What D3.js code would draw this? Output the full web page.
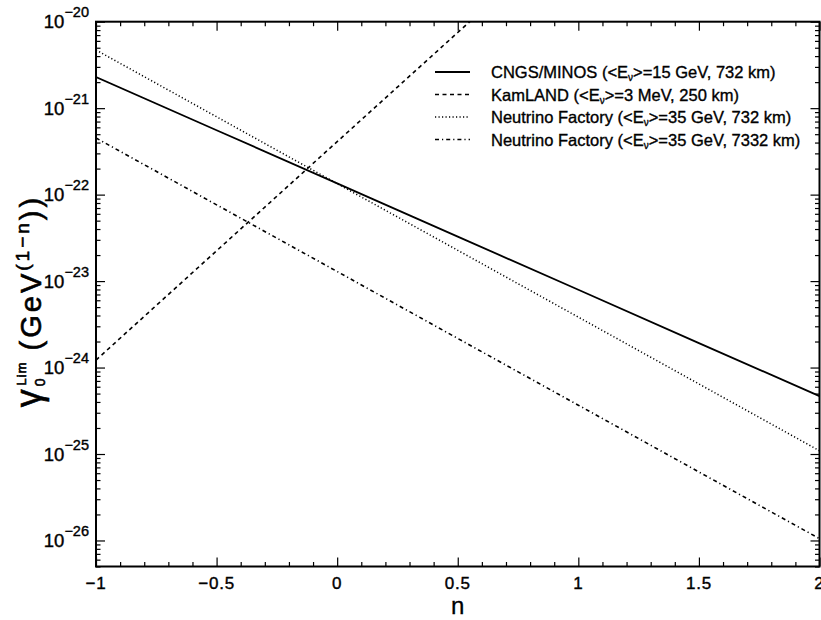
<!DOCTYPE html>
<html>
<head>
<meta charset="utf-8">
<script src="https://cdn.jsdelivr.net/npm/d3@7"></script>
<style>
  html, body { margin: 0; padding: 0; background: #fff; }
  svg { display: block; }
  text { font-family: "Liberation Sans", Arial, Helvetica, sans-serif; fill: #000; }
</style>
</head>
<body>
<svg id="chart" width="821" height="620"></svg>
<script>
// ---- data ----
const nValues = [-1, -0.5, 0, 0.5, 1, 1.5, 2];
const kamlandN = [-1, -0.5, 0, 0.5, 1];
const cngsMinos = [2.29e-21, 5.56e-22, 1.35e-22, 3.27e-23, 7.93e-24, 1.92e-24, 4.67e-25];
const kamland = [1.22e-24, 2.24e-23, 4.10e-22, 7.50e-21, 1.37e-19];
const nufactShort = [4.71e-21, 7.95e-22, 1.34e-22, 2.27e-23, 3.83e-24, 6.46e-25, 1.09e-25];
const nufactLong = [4.52e-22, 7.62e-23, 1.29e-23, 2.17e-24, 3.67e-25, 6.20e-26, 1.05e-26];

const legendLabels = [
  ["CNGS/MINOS (<E", "=15 GeV, 732 km)"],
  ["KamLAND (<E", "=3 MeV, 250 km)"],
  ["Neutrino Factory (<E", "=35 GeV, 732 km)"],
  ["Neutrino Factory (<E", "=35 GeV, 7332 km)"]
];
const xTickLabels = ["−1", "−0.5", "0", "0.5", "1", "1.5", "2"];
const xMajorTicks = [-1, -0.5, 0, 0.5, 1, 1.5, 2];
const yExponents = [-20, -21, -22, -23, -24, -25, -26];

// ---- layout ----
const svg = d3.select("#chart");
const L = 96, R = 819.5, T = 21.7, B = 566.5;

const x = d3.scaleLinear().domain([-1, 2]).range([L, R]);
const y = d3.scaleLog().domain([5e-27, 1e-20]).range([B, T]);

svg.append("defs").append("clipPath").attr("id", "plotclip")
  .append("rect").attr("x", L).attr("y", T).attr("width", R - L).attr("height", B - T);

// ---- ticks (inward, all four sides) ----
const xMinor = d3.range(-1, 2.0001, 0.1).map(v => +v.toFixed(2)).filter(v => !xMajorTicks.some(m => Math.abs(m - v) < 1e-6));
const yMajor = yExponents.map(e => Math.pow(10, e));
const yMinor = [];
for (let e = -27; e < -20; e++) {
  for (let k = 2; k <= 9; k++) {
    const v = k * Math.pow(10, e);
    if (v >= 5e-27 && v <= 1e-20) yMinor.push(v);
  }
}

function styleAxis(g) {
  g.select(".domain").remove();
  g.selectAll(".tick line").attr("stroke", "#000").attr("stroke-width", 1.2);
  g.selectAll(".tick text").remove();
}
const majLen = 9, minLen = 4.5;
svg.append("g").attr("transform", `translate(0,${B})`)
  .call(d3.axisBottom(x).tickValues(xMajorTicks).tickSize(-majLen)).call(styleAxis);
svg.append("g").attr("transform", `translate(0,${B})`)
  .call(d3.axisBottom(x).tickValues(xMinor).tickSize(-minLen)).call(styleAxis);
svg.append("g").attr("transform", `translate(0,${T})`)
  .call(d3.axisTop(x).tickValues(xMajorTicks).tickSize(-majLen)).call(styleAxis);
svg.append("g").attr("transform", `translate(0,${T})`)
  .call(d3.axisTop(x).tickValues(xMinor).tickSize(-minLen)).call(styleAxis);
svg.append("g").attr("transform", `translate(${L},0)`)
  .call(d3.axisLeft(y).tickValues(yMajor).tickSize(-majLen)).call(styleAxis);
svg.append("g").attr("transform", `translate(${L},0)`)
  .call(d3.axisLeft(y).tickValues(yMinor).tickSize(-minLen)).call(styleAxis);
svg.append("g").attr("transform", `translate(${R},0)`)
  .call(d3.axisRight(y).tickValues(yMajor).tickSize(-majLen)).call(styleAxis);
svg.append("g").attr("transform", `translate(${R},0)`)
  .call(d3.axisRight(y).tickValues(yMinor).tickSize(-minLen)).call(styleAxis);

// frame
svg.append("rect").attr("x", L).attr("y", T).attr("width", R - L).attr("height", B - T)
  .attr("fill", "none").attr("stroke", "#000").attr("stroke-width", 2);

// ---- tick labels ----
svg.append("g").selectAll("text").data(xMajorTicks).join("text")
  .attr("x", d => x(d)).attr("y", B + 22)
  .attr("text-anchor", "middle")
  .style("font-size", "17px").style("letter-spacing", "0.8px")
  .attr("stroke", "#000").attr("stroke-width", 0.4)
  .text((d, i) => xTickLabels[i]);

const ylab = svg.append("g").selectAll("text").data(yExponents).join("text")
  .attr("x", 89).attr("y", d => y(Math.pow(10, d)) + 6.5)
  .attr("text-anchor", "end")
  .attr("stroke", "#000").attr("stroke-width", 0.4)
  .style("font-size", "18.5px");
ylab.append("tspan").text("10");
ylab.append("tspan").attr("dy", -11).style("font-size", "14.5px")
  .text(d => "−" + Math.abs(d));

// ---- axis titles ----
svg.append("text").attr("x", (L + R) / 2).attr("y", 614)
  .attr("text-anchor", "middle").style("font-size", "24px")
  .attr("stroke", "#000").attr("stroke-width", 0.3)
  .text("n");

const yt = svg.append("text")
  .attr("transform", "translate(41,301) rotate(-90)")
  .attr("text-anchor", "middle")
  .attr("stroke", "#000").attr("stroke-width", 0.6)
  .style("font-size", "29px").style("letter-spacing", "3px");
yt.append("tspan").style("font-size", "36px").text("γ");
yt.append("tspan").attr("dy", 4).style("font-size", "14px").text("0");
yt.append("tspan").attr("dx", -10).attr("dy", -19).style("font-size", "13px").style("letter-spacing", "1px").text("Lim");
yt.append("tspan").attr("dy", 15).text(" (GeV");
yt.append("tspan").attr("dy", -12).style("font-size", "19px").text("(1−n");
yt.append("tspan").attr("dy", 12).text("))");

// ---- series ----
const series = [
  { n: nValues, v: cngsMinos, dash: null, w: 1.8 },
  { n: kamlandN, v: kamland, dash: "4,3.5", w: 1.6 },
  { n: nValues, v: nufactShort, dash: "1.2,2.3", w: 1.5 },
  { n: nValues, v: nufactLong, dash: "4,3,1.2,3", w: 1.6 }
];
const line = d3.line().x(d => x(d[0])).y(d => y(d[1]));
const plot = svg.append("g").attr("clip-path", "url(#plotclip)");
plot.selectAll("path").data(series).join("path")
  .attr("d", s => line(s.n.map((n, i) => [n, s.v[i]])))
  .attr("fill", "none").attr("stroke", "#000")
  .attr("stroke-width", s => s.w)
  .attr("stroke-dasharray", s => s.dash);

// ---- legend ----
const legY = [72, 94.5, 117, 139.5];
const leg = svg.append("g");
leg.selectAll("line").data(series).join("line")
  .attr("x1", 435).attr("x2", 470)
  .attr("y1", (d, i) => legY[i]).attr("y2", (d, i) => legY[i])
  .attr("stroke", "#000").attr("stroke-width", d => d.w)
  .attr("stroke-dasharray", d => d.dash);
const lt = leg.selectAll("text").data(legendLabels).join("text")
  .attr("x", 491).attr("y", (d, i) => legY[i] + 6)
  .attr("stroke", "#000").attr("stroke-width", 0.35)
  .style("font-size", "16.5px");
lt.append("tspan").text(d => d[0]);
lt.append("tspan").attr("dy", 3).style("font-size", "10px").text("ν");
lt.append("tspan").attr("dy", -3).text(d => ">" + d[1]);
</script>
</body>
</html>
